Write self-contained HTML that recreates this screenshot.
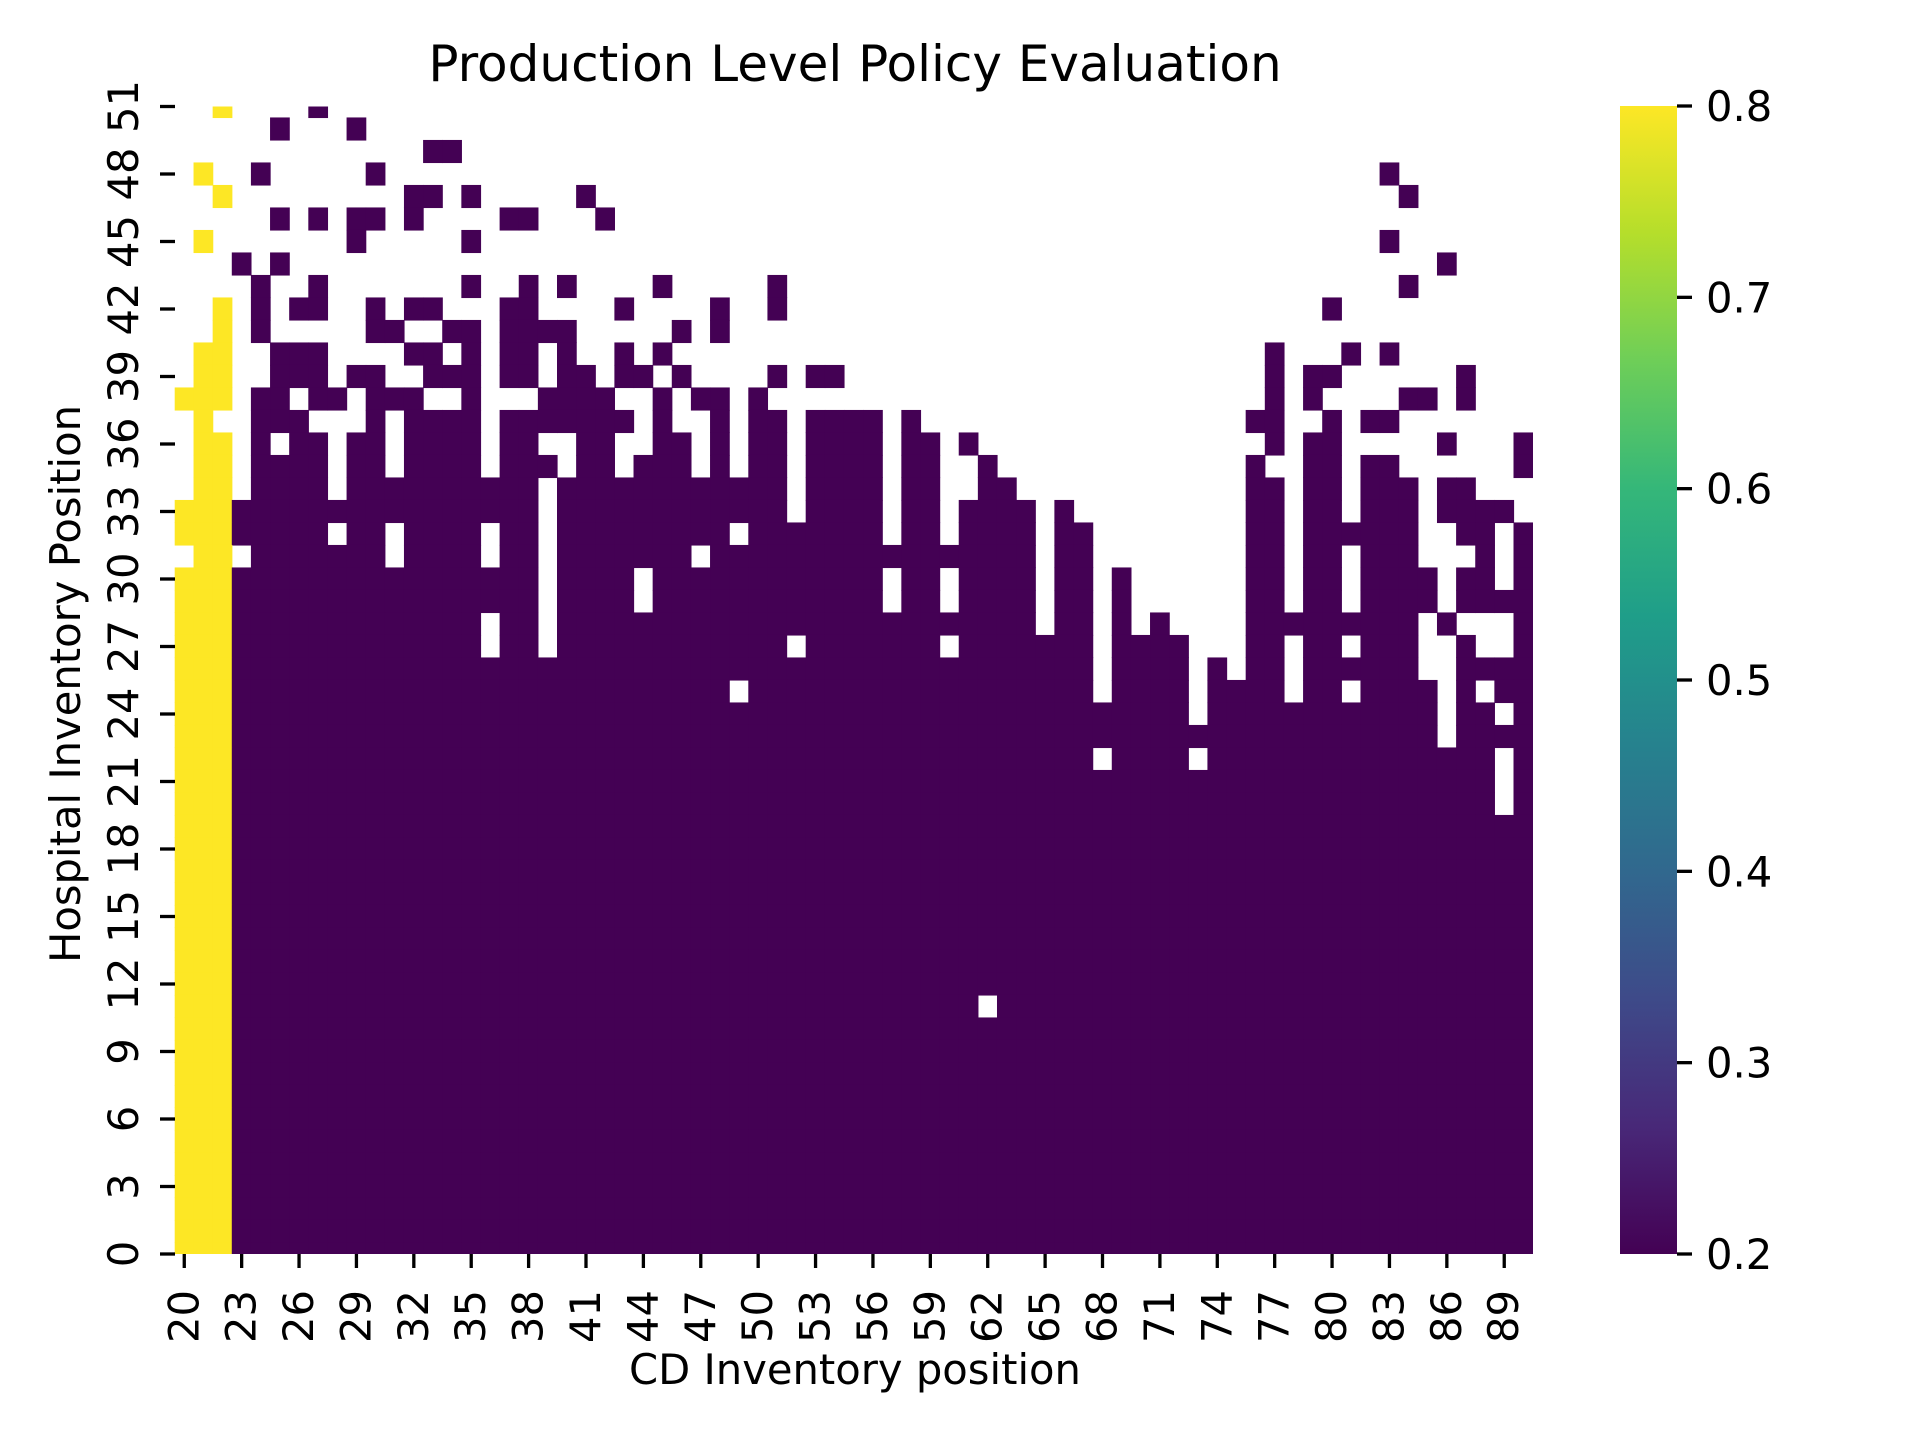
<!DOCTYPE html>
<html><head><meta charset="utf-8"><title>Production Level Policy Evaluation</title>
<style>html,body{margin:0;padding:0;background:#fff;}svg{display:block;font-family:"DejaVu Sans","Liberation Sans",sans-serif;}</style>
</head><body>
<svg id="chart" xmlns="http://www.w3.org/2000/svg" width="1920" height="1440" viewBox="0 0 1920 1440">
<defs>
<linearGradient id="viridis" x1="0" y1="1" x2="0" y2="0">
<stop offset="0" stop-color="#440154"/><stop offset="0.111" stop-color="#482878"/><stop offset="0.222" stop-color="#3e4a89"/><stop offset="0.333" stop-color="#31688e"/><stop offset="0.444" stop-color="#26828e"/><stop offset="0.556" stop-color="#1f9e89"/><stop offset="0.667" stop-color="#35b779"/><stop offset="0.778" stop-color="#6ece58"/><stop offset="0.889" stop-color="#b5de2b"/><stop offset="1" stop-color="#fde725"/>
</linearGradient>
<clipPath id="plotclip"><rect x="174.7" y="106.5" width="1358.3" height="1147.5"/></clipPath>
</defs>
<text x="855" y="81" font-size="50" text-anchor="middle" fill="#000">Production Level Policy Evaluation</text>
<g id="cells" clip-path="url(#plotclip)"></g>
<g id="axes"></g>
<text x="855" y="1384" font-size="41.7" text-anchor="middle" fill="#000">CD Inventory position</text>
<text transform="translate(80,684) rotate(-90)" font-size="41.7" text-anchor="middle" fill="#000">Hospital Inventory Position</text>
<rect x="1620" y="106" width="57" height="1148" fill="url(#viridis)"/>
<g id="cbar"></g>
</svg>
<script>
// Column categories (CD inventory position) and row categories (hospital inventory position)
const colCategories = [20,21,22,23,24,25,26,27,28,29,30,31,32,33,34,35,36,37,38,39,40,41,42,43,44,45,46,47,48,49,50,51,52,53,54,55,56,57,58,59,60,61,62,63,64,65,66,67,68,69,70,71,72,73,74,75,76,77,78,79,80,81,82,83,84,85,86,87,88,89,90];
const rowCategories = [51,50,49,48,47,46,45,44,43,42,41,40,39,38,37,36,35,34,33,32,31,30,29,28,27,26,25,24,23,22,21,20,19,18,17,16,15,14,13,12,11,10,9,8,7,6,5,4,3,2,1,0];
// Cell values per row (top to bottom): digit d => value d/10, "." => empty (NaN)
const cellRows = [
"..8....2.. .......... .......... .......... .......... .......... .......... .",
".....2...2 .......... .......... .......... .......... .......... .......... .",
".......... ...22..... .......... .......... .......... .......... .......... .",
".8..2..... 2......... .......... .......... .......... .......... ...2...... .",
"..8....... ..22.2.... .2........ .......... .......... .......... ....2..... .",
".....2.2.2 2.2....22. ..2....... .......... .......... .......... .......... .",
".8.......2 .....2.... .......... .......... .......... .......... ...2...... .",
"...2.2.... .......... .......... .......... .......... .......... ......2... .",
"....2..2.. .....2..2. 2....2.... .2........ .......... .......... ....2..... .",
"..8.2.22.. 2.22...22. ...2....2. .2........ .......... .......... 2......... .",
"..8.2..... 22..22.222 2.....2.2. .......... .......... .......... .......... .",
".88..222.. ..22.2.22. 2..2.2.... .......... .......... .......2.. .2.2...... .",
".88..222.2 2..222.22. 22.22.2... .2.22..... .......... .......2.2 2......2.. .",
"888.22.22. 222..2...2 222..2.22. 2......... .......... .......2.2 ....22.2.. .",
".8..222... 2.2222.222 2222.2..2. 22.2222.2. .......... ......22.. 2.22...... .",
".88.2.22.2 2.2222.22. .22..22.2. 22.2222.22 .2........ .......2.2 2.....2... 2",
".88.2222.2 2.2222.222 .22.222.2. 22.2222.22 ..2....... ......2..2 2.22...... 2",
".88.2222.2 222222222. 2222222222 22.2222.22 ..22...... ......22.2 2.222.22.. .",
"8882222222 222222222. 2222222222 22.2222.22 .2222.2... ......22.2 2.222.2222 .",
"88822222.2 2.2222.22. 222222222. 2222222.22 .2222.22.. ......22.2 22222..22. 2",
".88.222222 2.2222.22. 2222222.22 2222222222 22222.22.. ......22.2 2.222...2. 2",
"8882222222 222222222. 2222.22222 2222222.22 .2222.22.2 ......22.2 2.2222.22. 2",
"8882222222 222222222. 2222.22222 2222222.22 .2222.22.2 ......22.2 2.2222.222 2",
"8882222222 222222.22. 2222222222 2222222222 22222.22.2 .2....2222 22222.2... 2",
"8882222222 222222.22. 2222222222 22.2222222 .2222222.2 222...22.2 2.222..2.. 2",
"8882222222 2222222222 2222222222 2222222222 22222222.2 222.2.22.2 22222..222 2",
"8882222222 2222222222 222222222. 2222222222 22222222.2 222.2222.2 2.2222.2.2 2",
"8882222222 2222222222 2222222222 2222222222 2222222222 222.222222 222222.22. 2",
"8882222222 2222222222 2222222222 2222222222 2222222222 2222222222 222222.222 2",
"8882222222 2222222222 2222222222 2222222222 22222222.2 222.222222 222222222. 2",
"8882222222 2222222222 2222222222 2222222222 2222222222 2222222222 222222222. 2",
"8882222222 2222222222 2222222222 2222222222 2222222222 2222222222 222222222. 2",
"8882222222 2222222222 2222222222 2222222222 2222222222 2222222222 2222222222 2",
"8882222222 2222222222 2222222222 2222222222 2222222222 2222222222 2222222222 2",
"8882222222 2222222222 2222222222 2222222222 2222222222 2222222222 2222222222 2",
"8882222222 2222222222 2222222222 2222222222 2222222222 2222222222 2222222222 2",
"8882222222 2222222222 2222222222 2222222222 2222222222 2222222222 2222222222 2",
"8882222222 2222222222 2222222222 2222222222 2222222222 2222222222 2222222222 2",
"8882222222 2222222222 2222222222 2222222222 2222222222 2222222222 2222222222 2",
"8882222222 2222222222 2222222222 2222222222 2222222222 2222222222 2222222222 2",
"8882222222 2222222222 2222222222 2222222222 22.2222222 2222222222 2222222222 2",
"8882222222 2222222222 2222222222 2222222222 2222222222 2222222222 2222222222 2",
"8882222222 2222222222 2222222222 2222222222 2222222222 2222222222 2222222222 2",
"8882222222 2222222222 2222222222 2222222222 2222222222 2222222222 2222222222 2",
"8882222222 2222222222 2222222222 2222222222 2222222222 2222222222 2222222222 2",
"8882222222 2222222222 2222222222 2222222222 2222222222 2222222222 2222222222 2",
"8882222222 2222222222 2222222222 2222222222 2222222222 2222222222 2222222222 2",
"8882222222 2222222222 2222222222 2222222222 2222222222 2222222222 2222222222 2",
"8882222222 2222222222 2222222222 2222222222 2222222222 2222222222 2222222222 2",
"8882222222 2222222222 2222222222 2222222222 2222222222 2222222222 2222222222 2",
"8882222222 2222222222 2222222222 2222222222 2222222222 2222222222 2222222222 2",
"8882222222 2222222222 2222222222 2222222222 2222222222 2222222222 2222222222 2"
];
const xTickLabels = [20,23,26,29,32,35,38,41,44,47,50,53,56,59,62,65,68,71,74,77,80,83,86,89];
const yTickLabels = [0,3,6,9,12,15,18,21,24,27,30,33,36,39,42,45,48,51];
const cbarTicks = [0.2,0.3,0.4,0.5,0.6,0.7,0.8];

const NS = "http://www.w3.org/2000/svg";
const X0 = 174.7, CW = 19.13, Y0 = 1254, RH = 22.5;
const VMIN = 0.2, VMAX = 0.8, CB_TOP = 106, CB_BOT = 1254;
function xScale(cat){ return X0 + (cat - colCategories[0]) * CW; }
function xCenter(cat){ return xScale(cat) + CW/2; }
function yScale(cat){ return Y0 - (cat - 0) * RH; }
function cScale(v){ return CB_BOT - (v - VMIN)/(VMAX - VMIN) * (CB_BOT - CB_TOP); }
const stops = [[0,[68,1,84]],[0.111,[72,40,120]],[0.222,[62,74,137]],[0.333,[49,104,142]],[0.444,[38,130,142]],[0.556,[31,158,137]],[0.667,[53,183,121]],[0.778,[110,206,88]],[0.889,[181,222,43]],[1,[253,231,37]]];
function viridis(v){
  let t = Math.max(0, Math.min(1, (v - VMIN)/(VMAX - VMIN)));
  for (let i=1;i<stops.length;i++){
    if (t <= stops[i][0]){
      const a = stops[i-1], b = stops[i], f = (t - a[0])/(b[0]-a[0]);
      const c = a[1].map((x,k)=>Math.round(x + (b[1][k]-x)*f));
      return "rgb(" + c.join(",") + ")";
    }
  }
  return "rgb(253,231,37)";
}
const cellsG = document.getElementById("cells");
cellRows.forEach((rowStr, ri) => {
  const chars = rowStr.replace(/ /g, "");
  const rowCat = rowCategories[ri];
  for (let ci = 0; ci < colCategories.length; ci++){
    const ch = chars[ci];
    if (!ch || ch === ".") continue;
    const v = parseInt(ch, 10) / 10;
    const r = document.createElementNS(NS, "rect");
    
    
    r.setAttribute("x", xScale(colCategories[ci]) - 0.3);
    r.setAttribute("y", yScale(rowCat) - RH/2 - 0.3);
    r.setAttribute("width", CW + 0.6);
    r.setAttribute("height", RH + 0.6);
    r.setAttribute("fill", viridis(v));
    cellsG.appendChild(r);
  }
});
const axesG = document.getElementById("axes");
xTickLabels.forEach(v => {
  const x = xCenter(v);
  const l = document.createElementNS(NS, "line");
  
  
  l.setAttribute("x1", x); l.setAttribute("x2", x); l.setAttribute("y1", 1254); l.setAttribute("y2", 1268);
  l.setAttribute("stroke", "#000"); l.setAttribute("stroke-width", 3.3);
  axesG.appendChild(l);
  const t = document.createElementNS(NS, "text");
  
  
  t.setAttribute("transform", "translate(" + (x + 14) + ",1290) rotate(-90)");
  t.setAttribute("text-anchor", "end");
  t.setAttribute("font-size", "41.7");
  t.textContent = String(v);
  axesG.appendChild(t);
});
yTickLabels.forEach(v => {
  const y = yScale(v);
  const l = document.createElementNS(NS, "line");
  
  
  l.setAttribute("x1", 160); l.setAttribute("x2", 175); l.setAttribute("y1", y); l.setAttribute("y2", y);
  l.setAttribute("stroke", "#000"); l.setAttribute("stroke-width", 3.3);
  axesG.appendChild(l);
  const t = document.createElementNS(NS, "text");
  
  
  t.setAttribute("transform", "translate(138," + y + ") rotate(-90)");
  t.setAttribute("text-anchor", "middle");
  t.setAttribute("font-size", "41.7");
  t.textContent = String(v);
  axesG.appendChild(t);
});
const cbG = document.getElementById("cbar");
cbarTicks.forEach(v => {
  const y = cScale(v);
  const l = document.createElementNS(NS, "line");
  
  
  l.setAttribute("x1", 1677); l.setAttribute("x2", 1692); l.setAttribute("y1", y); l.setAttribute("y2", y);
  l.setAttribute("stroke", "#000"); l.setAttribute("stroke-width", 3.3);
  cbG.appendChild(l);
  const t = document.createElementNS(NS, "text");
  
  
  t.setAttribute("x", 1706); t.setAttribute("y", y + 15);
  t.setAttribute("font-size", "41.7");
  t.textContent = v.toFixed(1);
  cbG.appendChild(t);
});
</script>
</body></html>
